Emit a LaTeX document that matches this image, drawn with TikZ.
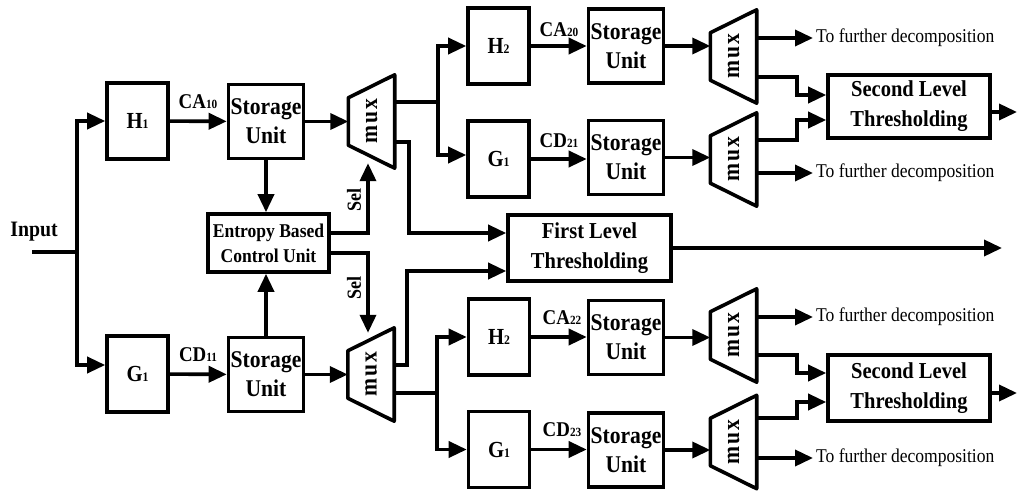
\documentclass[tikz,border=0pt]{standalone}
\usepackage{fontspec}
\usepackage{graphicx}
\setmainfont{Liberation Serif}[FakeStretch=0.9]
\usetikzlibrary{arrows.meta}
\newcommand\hg[2]{{\fontsize{23}{23}\selectfont #1}{\fontsize{13}{13}\selectfont #2}}
\newcommand\cg[2]{{\fontsize{21}{21}\selectfont #1}{\fontsize{12.5}{12.5}\selectfont #2}}
\newcommand\drawmux[1]{\draw[muxline] ([yshift=-23pt]#1.north west) -- (#1.north east) -- (#1.south east) -- ([yshift=23pt]#1.south west) -- cycle;}
\newcommand\muxtext{\rotatebox{90}{m\kern2pt u\kern2pt x}}
\begin{document}
\begin{tikzpicture}[x=1pt,y=-1pt,
  ln/.style={line width=3.6pt},
  arr/.style={line width=3.6pt,-{Triangle[length=18pt,width=16pt]}},
  blk/.style={draw,line width=3.6pt,inner sep=0,align=center,font=\bfseries},
  filt/.style={blk,minimum width=61pt,minimum height=76pt},
  su/.style={blk,minimum width=75pt,minimum height=74pt,font=\bfseries\fontsize{24}{29}\selectfont},
  thr/.style={blk,minimum width=162pt,minimum height=64pt,font=\bfseries\fontsize{22.8}{30}\selectfont},
  entb/.style={blk,minimum width=121pt,minimum height=58pt,font=\bfseries\fontsize{19.5}{25}\selectfont},
  muxbox/.style={inner sep=0,minimum width=46pt,minimum height=93pt,font=\bfseries\fontsize{24}{24}\selectfont},
  muxline/.style={draw,line width=3.6pt,line join=round},
  lab/.style={font=\bfseries,inner sep=1pt},
  sel/.style={font=\bfseries\fontsize{20}{20}\selectfont,rotate=90,inner sep=1pt},
  tf/.style={anchor=west,inner sep=3pt,font=\fontsize{19.5}{20}\selectfont}
]
\useasboundingbox (0,0) rectangle (1018,495);

% first stage
\node[font=\bfseries\fontsize{22}{22}\selectfont,inner sep=1pt] (inp) at (34,232) {Input};
\coordinate (in) at (32,252);
\coordinate (jin) at (77,252);
\node[filt] (h1) at (137.5,121) {\hg{H}{1}};
\node[filt] (g1a) at (137.5,374) {\hg{G}{1}};
\node[su] (su1) at (266,121.5) {Storage\\Unit};
\node[su] (su2) at (266,374.5) {Storage\\Unit};
\node[entb] (ent) at (268.5,243) {Entropy Based\\Control Unit};
\node[lab] (ca10) at (198,102) {\cg{CA}{10}};
\node[lab] (cd11) at (198,355) {\cg{CD}{11}};

\node[muxbox] (m1) at (371.5,121.5) {\muxtext};
\node[muxbox] (m2) at (371,374.5) {\muxtext};
\drawmux{m1}
\drawmux{m2}
\node[sel] (sel1) at (354,200) {Sel};
\node[sel] (sel2) at (354,288) {Sel};

% second stage filters
\node[filt] (h2a) at (498.5,46) {\hg{H}{2}};
\node[filt] (g1b) at (498.5,159) {\hg{G}{1}};
\node[filt] (h2b) at (499,337) {\hg{H}{2}};
\node[filt] (g1c) at (499,449.5) {\hg{G}{1}};
\node[su] (su3) at (626,46) {Storage\\Unit};
\node[su] (su4) at (626,157.5) {Storage\\Unit};
\node[su] (su5) at (626,337.5) {Storage\\Unit};
\node[su] (su6) at (626,450) {Storage\\Unit};
\node[lab] (ca20) at (559,30) {\cg{CA}{20}};
\node[lab] (cd21) at (559,141) {\cg{CD}{21}};
\node[lab] (ca22) at (562,318) {\cg{CA}{22}};
\node[lab] (cd23) at (562,430) {\cg{CD}{23}};

\node[thr,minimum width=163pt,minimum height=66pt] (fl) at (589.5,248) {First Level\\Thresholding};

\node[muxbox] (m3) at (733.5,56.5) {\muxtext};
\node[muxbox] (m4) at (733.5,159.5) {\muxtext};
\node[muxbox] (m5) at (733.5,335.5) {\muxtext};
\node[muxbox] (m6) at (733.5,442) {\muxtext};
\drawmux{m3}
\drawmux{m4}
\drawmux{m5}
\drawmux{m6}

\node[thr,minimum height=63pt] (sl1) at (909,106.5) {Second Level\\Thresholding};
\node[thr,minimum height=66pt] (sl2) at (909,388) {Second Level\\Thresholding};

\node[tf] (t1) at (813,38) {To further decomposition};
\node[tf] (t2) at (813,173) {To further decomposition};
\node[tf] (t3) at (813,317) {To further decomposition};
\node[tf] (t4) at (813,458) {To further decomposition};

\coordinate (o0) at (1002,248);
\coordinate (o1) at (1017,112);
\coordinate (o2) at (1017,393);
\coordinate (j1) at (438,102);
\coordinate (j2) at (437,393);

% connectors, first stage
\draw[ln] (in) -- (jin);
\draw[arr] (jin) |- (h1);
\draw[arr] (jin) |- ([yshift=9pt]g1a.west);
\draw[arr] (h1) -- (su1);
\draw[arr] (g1a) -- (su2);
\draw[arr] (su1) -- (su1 -| m1.west);
\draw[arr] (su2) -- (su2 -| m2.west);
\draw[arr] (su1.south) -- (su1.south |- ent.north);
\draw[arr] (su2.north) -- (su2.north |- ent.south);
\draw[arr] ([yshift=10pt]ent.east) -| ([xshift=-3.5pt,yshift=5pt]m1.south);
\draw[arr] ([yshift=-10pt]ent.east) -| ([xshift=-3pt,yshift=-5pt]m2.north);

% mux outputs, first stage
\draw[ln] ([yshift=19.5pt]m1.east) -- (j1);
\draw[arr] (j1) |- (h2a);
\draw[arr] (j1) |- ([yshift=4pt]g1b.west);
\draw[arr] ([yshift=-20.5pt]m1.east) -- ++(14,0) |- ([yshift=15pt]fl.west);
\draw[arr] ([yshift=9.5pt]m2.east) -- ++(13,0) |- ([yshift=-23pt]fl.west);
\draw[ln] ([yshift=-18.5pt]m2.east) -- (j2);
\draw[arr] (j2) |- (h2b);
\draw[arr] (j2) |- (g1c);
\draw[arr] (fl) -- (o0);

% second stage
\draw[arr] (h2a) -- (h2a -| su3.west);
\draw[arr] (g1b) -- (g1b -| su4.west);
\draw[arr] (h2b) -- (h2b -| su5.west);
\draw[arr] (g1c) -- (g1c -| su6.west);
\draw[arr] (su3) -- (su3 -| m3.west);
\draw[arr] (su4) -- (su4 -| m4.west);
\draw[arr] (su5) -- (su5 -| m5.west);
\draw[arr] (su6) -- (su6 -| m6.west);

\draw[arr] ([yshift=18.5pt]m3.east) -- (t1.west);
\draw[arr] ([yshift=-20.5pt]m3.east) -- ++(40,0) |- ([yshift=11.5pt]sl1.west);
\draw[arr] ([yshift=19.5pt]m4.east) -- ++(40,0) |- ([yshift=-13.5pt]sl1.west);
\draw[arr] ([yshift=-13.5pt]m4.east) -- (t2.west);
\draw[arr] ([yshift=18.5pt]m5.east) -- (t3.west);
\draw[arr] ([yshift=-19.5pt]m5.east) -- ++(40,0) |- ([yshift=15pt]sl2.west);
\draw[arr] ([yshift=24pt]m6.east) -- ++(40,0) |- ([yshift=-14pt]sl2.west);
\draw[arr] ([yshift=-16pt]m6.east) -- (t4.west);
\draw[arr] (sl1.east |- o1) -- (o1);
\draw[arr] (sl2.east |- o2) -- (o2);
\end{tikzpicture}
\end{document}
